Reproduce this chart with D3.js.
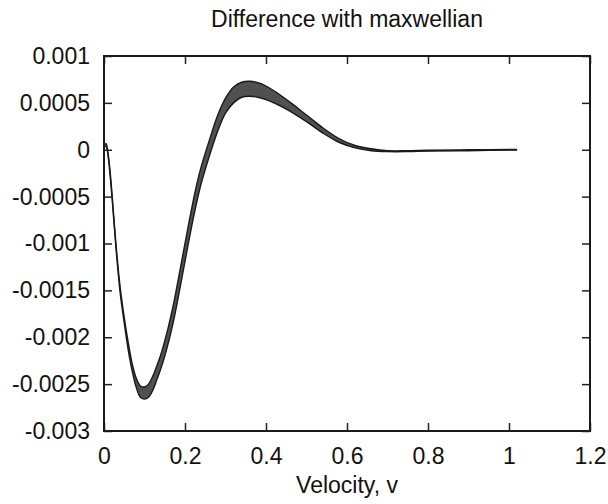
<!DOCTYPE html>
<html>
<head>
<meta charset="utf-8">
<script src="https://cdn.jsdelivr.net/npm/d3@7"></script>
<style>
  body { margin: 0; background: #fff; }
  svg text { font-family: "Liberation Sans", Arial, sans-serif; fill: #111; }
</style>
</head>
<body>
<svg id="chart" width="608" height="504"></svg>
<script>
// velocity samples and the band of the curves (upper / lower edge)
var velocity = [0, 0.005, 0.01, 0.015, 0.02, 0.03, 0.04, 0.05, 0.06, 0.07, 0.08, 0.09, 0.1,
    0.11, 0.12, 0.13, 0.14, 0.15, 0.16, 0.17, 0.18, 0.19, 0.2, 0.21, 0.22, 0.23, 0.24,
    0.26, 0.28, 0.3, 0.32, 0.34, 0.36, 0.38, 0.4, 0.43, 0.46, 0.5, 0.54, 0.58, 0.62,
    0.66, 0.7, 0.75, 0.8, 0.9, 1.02];
var diffUpper = [0.00005, 0.000065, -0.000035, -0.00023, -0.00048, -0.00103, -0.00147, -0.00179,
    -0.00206, -0.00229, -0.00244, -0.00252, -0.00253, -0.0025, -0.00242, -0.00231, -0.00219,
    -0.00204, -0.00187, -0.00168, -0.00146, -0.00123, -0.001, -0.00077, -0.00055, -0.00035,
    -0.00018, 0.0001, 0.00036, 0.00055, 0.00067, 0.00072, 0.00073, 0.000715, 0.00068, 0.0006,
    0.000505, 0.00037, 0.000235, 0.00012, 0.000045, 0.00001, -0.00001, -0.00001, -0.000005, 0, 0.000003];
var diffLower = [0.00003, 0.000035, -0.000065, -0.00027, -0.00052, -0.00107, -0.00153, -0.00185,
    -0.00214, -0.00237, -0.00254, -0.00264, -0.00266, -0.00264, -0.00257, -0.00246, -0.00234,
    -0.0022, -0.00204, -0.00186, -0.00165, -0.00142, -0.00119, -0.00096, -0.00074, -0.00054,
    -0.00036, -0.00007, 0.00019, 0.00039, 0.0005, 0.00056, 0.00057, 0.00056, 0.000535, 0.00048,
    0.00041, 0.0003, 0.00018, 0.00008, 0.00002, -0.00001, -0.00002, -0.00002, -0.000015, -0.00001, -0.000003];

var xTicks = [0, 0.2, 0.4, 0.6, 0.8, 1, 1.2];
var yTicks = [0.001, 0.0005, 0, -0.0005, -0.001, -0.0015, -0.002, -0.0025, -0.003];
var yLabels = ["0.001", "0.0005", "0", "-0.0005", "-0.001", "-0.0015", "-0.002", "-0.0025", "-0.003"];

var margin = {left: 104, right: 18, top: 56, bottom: 73};
var svg = d3.select("#chart"),
    width = +svg.attr("width") - margin.left - margin.right,
    height = +svg.attr("height") - margin.top - margin.bottom;

var g = svg.append("g").attr("transform", "translate(" + margin.left + "," + margin.top + ")");

var x = d3.scaleLinear().domain([0, 1.2]).range([0, width]);
var y = d3.scaleLinear().domain([-0.003, 0.001]).range([height, 0]);

var band = velocity.map(function(v, i) {
    return {v: v, hi: diffUpper[i], lo: diffLower[i]};
});

var smooth = d3.curveCatmullRom.alpha(0.5);

// the band of curves
var area = d3.area()
    .x(function(d) { return x(d.v); })
    .y0(function(d) { return y(d.lo); })
    .y1(function(d) { return y(d.hi); })
    .curve(smooth);

g.append("path").datum(band)
    .attr("d", area)
    .attr("fill", "#505050")
    .attr("stroke", "none");

["hi", "lo"].forEach(function(k) {
    g.append("path").datum(band)
        .attr("d", d3.line()
            .x(function(d) { return x(d.v); })
            .y(function(d) { return y(d[k]); })
            .curve(smooth))
        .attr("fill", "none")
        .attr("stroke", "#1a1a1a")
        .attr("stroke-width", 1.4);
});

// axes, gnuplot style: ticks inside, mirrored
var fmtY = function(d) { return yLabels[yTicks.indexOf(d)]; };
var fmtX = function(d) { return d3.format("")(d); };

var axL = g.append("g").call(d3.axisLeft(y).tickValues(yTicks).tickFormat(fmtY)
    .tickSizeInner(-8).tickSizeOuter(0).tickPadding(14));
var axB = g.append("g").attr("transform", "translate(0," + height + ")")
    .call(d3.axisBottom(x).tickValues(xTicks).tickFormat(fmtX)
    .tickSizeInner(-8).tickSizeOuter(0).tickPadding(17));
var axR = g.append("g").attr("transform", "translate(" + width + ",0)")
    .call(d3.axisRight(y).tickValues(yTicks).tickFormat("")
    .tickSizeInner(-8).tickSizeOuter(0));
var axT = g.append("g")
    .call(d3.axisTop(x).tickValues(xTicks).tickFormat("")
    .tickSizeInner(-8).tickSizeOuter(0));

[axL, axB, axR, axT].forEach(function(a) {
    a.select(".domain").remove();
    a.selectAll("line").attr("stroke", "#222").attr("stroke-width", 1.5);
    a.selectAll("text").attr("font-size", 23).style("font-family", "Liberation Sans, Arial, sans-serif").attr("fill", "#111");
});

g.append("rect")
    .attr("width", width).attr("height", height)
    .attr("fill", "none").attr("stroke", "#1a1a1a").attr("stroke-width", 2);

// titles
svg.append("text")
    .attr("x", margin.left + width / 2).attr("y", 27)
    .attr("text-anchor", "middle").attr("font-size", 23)
    .text("Difference with maxwellian");

svg.append("text")
    .attr("x", margin.left + width / 2).attr("y", 493)
    .attr("text-anchor", "middle").attr("font-size", 23)
    .text("Velocity, v");
</script>
</body>
</html>
